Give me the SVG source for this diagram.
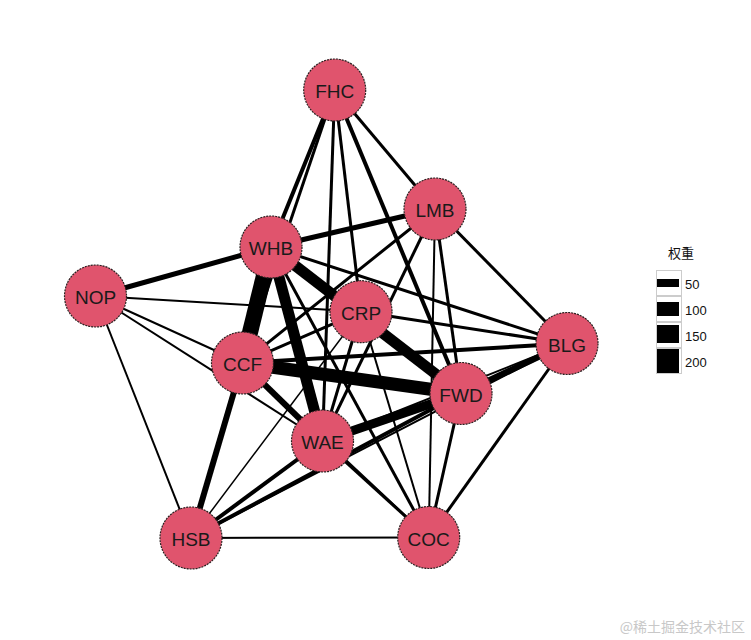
<svg xmlns="http://www.w3.org/2000/svg" width="751" height="640" viewBox="0 0 751 640">
<style>
.e{stroke:#000;fill:none;stroke-linecap:butt}
.n circle{fill:#E0546D;stroke:#2a2020;stroke-width:1.2;stroke-dasharray:2 1}
.n text{font-family:"Liberation Sans",Arial,sans-serif;font-size:19px;fill:#1a1a1a;text-anchor:middle;dominant-baseline:central}
.lg{font-family:"Liberation Sans",Arial,sans-serif;font-size:13px;fill:#111}
</style>
<rect width="751" height="640" fill="#fff"/>
<g id="edges">
<line class="e" x1="271" y1="247" x2="242.5" y2="363" stroke-width="16"/>
<line class="e" x1="271" y1="247" x2="322.5" y2="441" stroke-width="11"/>
<line class="e" x1="271" y1="247" x2="461" y2="393.5" stroke-width="11"/>
<line class="e" x1="242.5" y1="363" x2="461" y2="393.5" stroke-width="13"/>
<line class="e" x1="322.5" y1="441" x2="461" y2="393.5" stroke-width="9"/>
<line class="e" x1="242.5" y1="363" x2="322.5" y2="441" stroke-width="6"/>
<line class="e" x1="242.5" y1="363" x2="191" y2="538" stroke-width="6"/>
<line class="e" x1="461" y1="393.5" x2="567" y2="343.5" stroke-width="6"/>
<line class="e" x1="95.5" y1="296" x2="271" y2="247" stroke-width="5"/>
<line class="e" x1="271" y1="247" x2="435" y2="209" stroke-width="5"/>
<line class="e" x1="334.7" y1="90" x2="271" y2="247" stroke-width="4"/>
<line class="e" x1="334.7" y1="90" x2="461" y2="393.5" stroke-width="4"/>
<line class="e" x1="191" y1="538" x2="322.5" y2="441" stroke-width="4"/>
<line class="e" x1="191" y1="538" x2="461" y2="393.5" stroke-width="4"/>
<line class="e" x1="242.5" y1="363" x2="567" y2="343.5" stroke-width="4"/>
<line class="e" x1="361" y1="311.7" x2="567" y2="343.5" stroke-width="3"/>
<line class="e" x1="271" y1="247" x2="567" y2="343.5" stroke-width="3"/>
<line class="e" x1="435" y1="209" x2="567" y2="343.5" stroke-width="3"/>
<line class="e" x1="567" y1="343.5" x2="428.7" y2="537.5" stroke-width="3"/>
<line class="e" x1="461" y1="393.5" x2="428.7" y2="537.5" stroke-width="3"/>
<line class="e" x1="322.5" y1="441" x2="428.7" y2="537.5" stroke-width="3"/>
<line class="e" x1="435" y1="209" x2="461" y2="393.5" stroke-width="3"/>
<line class="e" x1="435" y1="209" x2="242.5" y2="363" stroke-width="3"/>
<line class="e" x1="435" y1="209" x2="322.5" y2="441" stroke-width="3"/>
<line class="e" x1="334.7" y1="90" x2="242.5" y2="363" stroke-width="3"/>
<line class="e" x1="334.7" y1="90" x2="322.5" y2="441" stroke-width="3"/>
<line class="e" x1="334.7" y1="90" x2="361" y2="311.7" stroke-width="3"/>
<line class="e" x1="334.7" y1="90" x2="435" y2="209" stroke-width="3"/>
<line class="e" x1="95.5" y1="296" x2="361" y2="311.7" stroke-width="2"/>
<line class="e" x1="95.5" y1="296" x2="242.5" y2="363" stroke-width="2"/>
<line class="e" x1="95.5" y1="296" x2="322.5" y2="441" stroke-width="2"/>
<line class="e" x1="95.5" y1="296" x2="191" y2="538" stroke-width="2"/>
<line class="e" x1="191" y1="538" x2="428.7" y2="537.5" stroke-width="2"/>
<line class="e" x1="191" y1="538" x2="361" y2="311.7" stroke-width="1.5"/>
<line class="e" x1="191" y1="538" x2="567" y2="343.5" stroke-width="2"/>
<line class="e" x1="435" y1="209" x2="428.7" y2="537.5" stroke-width="2"/>
<line class="e" x1="361" y1="311.7" x2="428.7" y2="537.5" stroke-width="2"/>
<line class="e" x1="271" y1="247" x2="428.7" y2="537.5" stroke-width="3"/>
<line class="e" x1="242.5" y1="363" x2="361" y2="311.7" stroke-width="3"/>
<line class="e" x1="361" y1="311.7" x2="322.5" y2="441" stroke-width="3"/>
<line class="e" x1="242.5" y1="363" x2="428.7" y2="537.5" stroke-width="2"/>
<line class="e" x1="322.5" y1="441" x2="567" y2="343.5" stroke-width="2"/>
</g>
<g id="FHC" class="n"><circle cx="334.7" cy="90" r="31"/><text x="334.7" y="91">FHC</text></g>
<g id="LMB" class="n"><circle cx="435" cy="209" r="31"/><text x="435" y="210">LMB</text></g>
<g id="WHB" class="n"><circle cx="271" cy="247" r="31"/><text x="271" y="248">WHB</text></g>
<g id="NOP" class="n"><circle cx="95.5" cy="296" r="31"/><text x="95.5" y="297">NOP</text></g>
<g id="CRP" class="n"><circle cx="361" cy="311.7" r="31"/><text x="361" y="313">CRP</text></g>
<g id="BLG" class="n"><circle cx="567" cy="343.5" r="31"/><text x="567" y="345">BLG</text></g>
<g id="CCF" class="n"><circle cx="242.5" cy="363" r="31"/><text x="242.5" y="364">CCF</text></g>
<g id="FWD" class="n"><circle cx="461" cy="393.5" r="31"/><text x="461" y="395">FWD</text></g>
<g id="WAE" class="n"><circle cx="322.5" cy="441" r="31"/><text x="322.5" y="442">WAE</text></g>
<g id="HSB" class="n"><circle cx="191" cy="538" r="31"/><text x="191" y="539">HSB</text></g>
<g id="COC" class="n"><circle cx="428.7" cy="537.5" r="31"/><text x="428.7" y="539">COC</text></g>
<g id="legend">
<text class="lg" x="681" y="258" text-anchor="middle" style="font-family:'Liberation Sans','Noto Sans CJK SC',sans-serif">权重</text>
<g fill="#fff" stroke="#ccc" stroke-width="1">
<rect x="656.5" y="270.5" width="25" height="25"/>
<rect x="656.5" y="296.5" width="25" height="25"/>
<rect x="656.5" y="322.5" width="25" height="25"/>
<rect x="656.5" y="348.5" width="25" height="25"/>
</g>
<rect x="657" y="279" width="22" height="8" fill="#000"/>
<rect x="657" y="302" width="22" height="14" fill="#000"/>
<rect x="657" y="325" width="22" height="18" fill="#000"/>
<rect x="657" y="349" width="22" height="24" fill="#000"/>
<text class="lg" x="685" y="289">50</text>
<text class="lg" x="685" y="315">100</text>
<text class="lg" x="685" y="341">150</text>
<text class="lg" x="685" y="367">200</text>
</g>
<text x="745" y="632" text-anchor="end" style="font-family:'Noto Sans CJK SC',sans-serif;font-size:14px;fill:#c8c8c8">@稀土掘金技术社区</text>
</svg>
